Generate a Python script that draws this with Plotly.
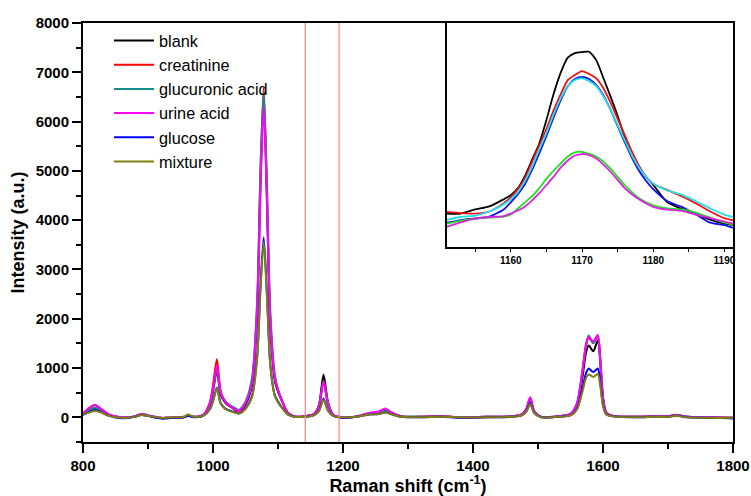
import plotly.graph_objects as go

# ---------------- main spectra ----------------
shift = [800, 810, 818, 826, 840, 860, 880, 890, 900, 920, 940, 955, 962, 970, 985,
         995, 1000, 1006, 1012, 1020, 1030, 1040, 1050, 1060, 1068, 1073, 1078, 1083, 1088, 1095,
         1100, 1106, 1115, 1125, 1140, 1155, 1163, 1170, 1177, 1185, 1200, 1220, 1240, 1255, 1265,
         1275, 1290, 1320, 1350, 1380, 1420, 1460, 1475, 1482, 1488, 1494, 1505, 1530, 1550, 1560,
         1568, 1574, 1578, 1585, 1592, 1596, 1600, 1605, 1615, 1650, 1680, 1700, 1712, 1730, 1760,
         1800]

blank = [60, 140, 190, 150, 40, -10, 20, 60, 30, -20, -10, 0, 40, 10, 40,
         250, 520, 950, 450, 280, 190, 110, 260, 650, 2100, 4700, 6500, 4400, 1900, 750,
         520, 330, 90, 20, 20, 60, 250, 870, 300, 50, 0, 10, 80, 90, 130,
         80, 20, 10, 20, 0, 10, 20, 60, 160, 370, 120, 10, 20, 60, 230,
         780, 1320, 1460, 1340, 1560, 1080, 380, 90, 30, 10, 20, 20, 50, 10, 0,
         -20]

creatinine = [80, 190, 250, 190, 50, 0, 20, 60, 30, -10, 0, 10, 40, 10, 50,
              300, 650, 1180, 520, 300, 200, 120, 300, 720, 2300, 5000, 6700, 4600, 2050, 820,
              560, 350, 100, 20, 20, 70, 230, 740, 270, 50, -10, 10, 80, 110, 160,
              90, 20, 10, 20, 0, 0, 20, 60, 170, 400, 130, 10, 20, 70, 270,
              880, 1460, 1620, 1510, 1640, 1140, 400, 100, 30, 10, 20, 20, 50, 10, 0,
              -10]

glucuronic = [70, 150, 200, 160, 50, 0, 20, 70, 40, -10, 0, 10, 30, 10, 40,
              270, 560, 980, 480, 310, 220, 150, 320, 800, 2400, 5000, 6600, 4700, 2200, 880,
              560, 340, 90, 20, 10, 60, 230, 730, 270, 40, 0, 10, 70, 90, 130,
              80, 20, 10, 20, 0, 10, 20, 50, 160, 390, 120, 10, 20, 70, 280,
              920, 1500, 1660, 1500, 1650, 1130, 390, 90, 30, 10, 20, 20, 40, 10, 0,
              -10]

urine = [80, 200, 250, 190, 60, 0, 20, 70, 40, -10, 0, 10, 30, 10, 50,
         280, 580, 1050, 490, 300, 200, 130, 290, 700, 2200, 4600, 6300, 4400, 2000, 800,
         560, 340, 90, 20, 20, 60, 220, 720, 270, 50, 0, 20, 90, 120, 180,
         100, 20, 10, 20, 0, 10, 20, 60, 170, 410, 130, 10, 20, 70, 290,
         900, 1480, 1630, 1540, 1670, 1150, 400, 90, 30, 10, 20, 20, 50, 10, 0,
         -10]

glucose = [50, 110, 150, 120, 30, -20, 10, 50, 30, -20, -10, 0, 30, 0, 30,
           160, 330, 600, 280, 170, 120, 80, 180, 430, 1250, 2650, 3650, 2500, 1100, 450,
           320, 200, 60, 10, 10, 40, 130, 380, 140, 30, -10, 10, 60, 70, 100,
           60, 10, 0, 10, -10, 0, 10, 40, 120, 290, 90, 0, 10, 40, 170,
           560, 900, 990, 920, 990, 690, 250, 60, 20, 0, 10, 10, 40, 0, -10,
           -20]

mixture = [50, 100, 130, 110, 30, -10, 10, 50, 30, -10, 0, 10, 60, 10, 30,
           160, 320, 590, 270, 160, 110, 80, 170, 410, 1200, 2550, 3560, 2450, 1080, 440,
           300, 190, 60, 10, 10, 40, 120, 360, 130, 30, 0, 10, 60, 70, 100,
           60, 10, 0, 10, 0, 0, 10, 40, 110, 270, 90, 0, 10, 40, 160,
           500, 800, 870, 820, 880, 620, 230, 60, 20, 0, 10, 10, 30, 0, -10,
           -10]

names = ["blank", "creatinine", "glucuronic acid", "urine acid", "glucose", "mixture"]
colors = ["#000000", "#ff0000", "#178c8c", "#ff00ff", "#0000ff", "#7f7f10"]
series = [blank, creatinine, glucuronic, urine, glucose, mixture]

# ---------------- inset (zoom 1151-1191) ----------------
inset_x = [1151, 1153, 1155, 1157, 1159, 1160, 1161, 1162, 1163, 1164, 1165, 1166, 1167, 1168,
           1169, 1170, 1171, 1172, 1173, 1174, 1175, 1176, 1177, 1178, 1179, 1180, 1182, 1184,
           1186, 1188, 1190, 1191.2]
inset_black = [65, 65, 85, 100, 135, 155, 190, 250, 330, 409, 524, 650, 755, 830,
               852, 857, 859, 818, 730, 640, 545, 440, 345, 290, 245, 205, 120, 88,
               62, 35, 15, 8]
inset_red = [73, 67, 65, 75, 115, 145, 185, 240, 320, 400, 480, 570, 650, 720,
             745, 764, 750, 728, 680, 610, 530, 450, 370, 300, 245, 210, 180, 150,
             115, 75, 42, 32]
inset_blue = [20, 33, 41, 50, 85, 120, 160, 210, 280, 360, 445, 535, 620, 690,
              725, 736, 725, 695, 645, 575, 495, 415, 340, 275, 225, 185, 125, 98,
              60, 20, 8, -5]
inset_cyan = [35, 48, 55, 75, 110, 135, 170, 225, 295, 380, 460, 550, 630, 690,
              720, 728, 715, 690, 640, 575, 500, 425, 350, 290, 245, 212, 178, 158,
              125, 90, 60, 48]
inset_green = [15, 30, 40, 45, 50, 60, 90, 120, 150, 190, 235, 275, 310, 345,
               365, 368, 358, 345, 320, 285, 245, 205, 170, 140, 120, 105, 90, 85,
               70, 45, 20, 10]
inset_magenta = [0, 22, 40, 48, 52, 65, 80, 100, 130, 165, 205, 245, 290, 325,
                 350, 357, 352, 335, 305, 270, 230, 190, 160, 135, 115, 98, 84, 78,
                 60, 42, 25, 16]
inset_series = [inset_black, inset_red, inset_blue, inset_cyan, inset_green, inset_magenta]
inset_colors = ["#000000", "#ee1111", "#1010ee", "#22e0e8", "#22dd22", "#dd22dd"]

# window marked in main plot
window = [1142, 1194]

FONT = "Liberation Sans, Arial, sans-serif"

fig = go.Figure()
for n, c, s in zip(names, colors, series):
    fig.add_trace(go.Scatter(x=shift, y=s, name=n, mode="lines",
                             line=dict(color=c, width=2, shape="spline", smoothing=0.7),
                             xaxis="x", yaxis="y"))

for c, s in zip(inset_colors, inset_series):
    fig.add_trace(go.Scatter(x=inset_x, y=s, mode="lines", showlegend=False,
                             line=dict(color=c, width=1.8, shape="spline", smoothing=0.6),
                             xaxis="x2", yaxis="y2", hoverinfo="skip"))

for w in window:
    fig.add_shape(type="line", xref="x", yref="paper", x0=w, x1=w, y0=0, y1=1,
                  line=dict(color="#f08c8c", width=1.3))

# white background for inset
fig.add_shape(type="rect", xref="paper", yref="paper", x0=0.5595, x1=1, y0=0.465, y1=1,
              fillcolor="white", line=dict(width=0), layer="below")

fig.update_layout(
    width=751, height=496,
    margin=dict(l=83, r=18, t=23, b=54),
    paper_bgcolor="white", plot_bgcolor="white",
    font=dict(family=FONT, color="black"),
    showlegend=True,
    legend=dict(x=0.04, y=0.999, xanchor="left", yanchor="top",
                font=dict(size=16.3, family=FONT, color="black"),
                bgcolor="rgba(0,0,0,0)", itemwidth=40),
    xaxis=dict(range=[800, 1800], domain=[0, 1], anchor="y", automargin=False,
               tickmode="linear", tick0=800, dtick=200,
               ticks="outside", ticklen=9, tickwidth=2, tickcolor="black",
               minor=dict(dtick=100, ticks="outside", ticklen=5, tickwidth=2, tickcolor="black"),
               showline=True, linewidth=2, linecolor="black", mirror=True,
               showgrid=False, zeroline=False,
               tickfont=dict(size=15, family=FONT, color="black", weight="bold"),
               title=dict(text="Raman shift (cm<sup>-1</sup>)", standoff=0,
                          font=dict(size=18, family=FONT, color="black", weight="bold"))),
    yaxis=dict(range=[-500, 8000], domain=[0, 1], anchor="x", automargin=False,
               tickmode="linear", tick0=0, dtick=1000,
               ticks="outside", ticklen=9, tickwidth=2, tickcolor="black",
               minor=dict(dtick=500, ticks="outside", ticklen=5, tickwidth=2, tickcolor="black"),
               showline=True, linewidth=2, linecolor="black", mirror=True,
               showgrid=False, zeroline=False,
               tickfont=dict(size=15, family=FONT, color="black", weight="bold"),
               title=dict(text="Intensity (a.u.)", standoff=6,
                          font=dict(size=18, family=FONT, color="black", weight="bold"))),
    xaxis2=dict(range=[1151, 1191.2], domain=[0.5595, 1], anchor="y2", automargin=False,
                tickmode="linear", tick0=1160, dtick=10,
                ticks="outside", ticklen=3, tickwidth=1, tickcolor="black",
                minor=dict(dtick=5, ticks="outside", ticklen=3, tickwidth=1, tickcolor="black"),
                showline=True, linewidth=2, linecolor="black", mirror=True,
                showgrid=False, zeroline=False,
                tickfont=dict(size=10, family=FONT, color="black", weight="bold")),
    yaxis2=dict(range=[-100, 1000], domain=[0.465, 1], anchor="x2", automargin=False,
                showticklabels=False, ticks="",
                showline=True, linewidth=2, linecolor="black", mirror=True,
                showgrid=False, zeroline=False),
)

fig.write_html("out.html")
